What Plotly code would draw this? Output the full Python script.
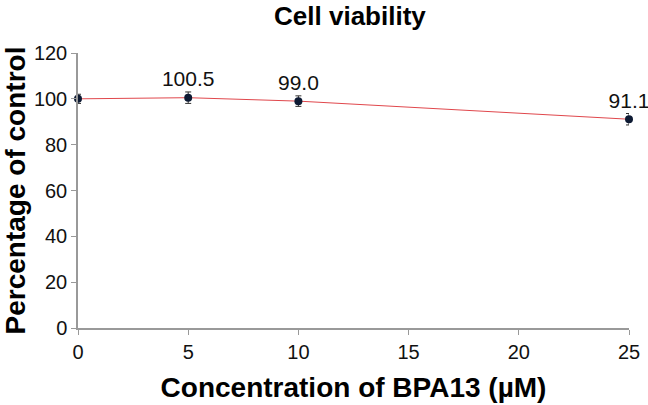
import plotly.graph_objects as go

conc = [0, 5, 10, 25]
viability = [100.0, 100.5, 99.0, 91.1]
errors = [2.0, 2.5, 2.3, 2.5]
labels = ["", "100.5", "99.0", "91.1"]
x_ticks = [0, 5, 10, 15, 20, 25]
y_ticks = [0, 20, 40, 60, 80, 100, 120]

FONT = "Liberation Sans, Arial, sans-serif"

fig = go.Figure()
fig.add_trace(go.Scatter(
    x=conc, y=viability,
    mode="lines+markers+text",
    text=labels,
    textposition="top center",
    textfont=dict(size=21, color="#111", family=FONT),
    line=dict(color="#e0474c", width=1),
    marker=dict(color="#0d1a33", size=8),
    error_y=dict(type="data", array=errors, color="#333", thickness=1, width=3),
    cliponaxis=False,
    showlegend=False,
))

fig.update_layout(
    width=648, height=405,
    margin=dict(l=78, r=19, t=53, b=77),
    paper_bgcolor="white", plot_bgcolor="white",
    font=dict(family=FONT, color="#111"),
    title=dict(text="<b>Cell viability</b>", x=0.54, xanchor="center", y=0.96, yanchor="middle",
               font=dict(size=26, color="#000")),
)
fig.update_xaxes(
    range=[0, 25], tickvals=x_ticks, showgrid=False, zeroline=False, automargin=False,
    showline=True, linecolor="#999", linewidth=1.5, ticks="outside", ticklen=5, tickcolor="#999",
    tickfont=dict(size=20, color="#111"),
    title=dict(text="<b>Concentration of BPA13 (µM)</b>", font=dict(size=28, color="#000"), standoff=16),
)
fig.update_yaxes(
    range=[0, 120], tickvals=y_ticks, showgrid=False, zeroline=False, automargin=False,
    showline=True, linecolor="#999", linewidth=1.5, ticks="outside", ticklen=5, tickcolor="#999",
    tickfont=dict(size=20, color="#111"),
    title=dict(text="<b>Percentage of control</b>", font=dict(size=28, color="#000"), standoff=6),
)

fig.write_html(
    "out.html",
    config={"displayModeBar": False},
    post_script="document.body.style.margin='0';document.body.style.overflow='hidden';",
)
